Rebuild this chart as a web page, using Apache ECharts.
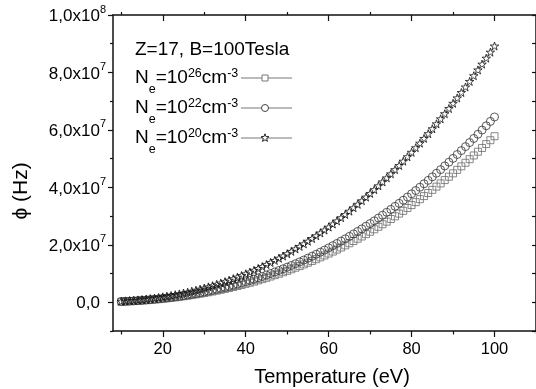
<!DOCTYPE html>
<html><head><meta charset="utf-8">
<script src="https://cdn.jsdelivr.net/npm/echarts@6/dist/echarts.min.js"></script>
<style>html,body{margin:0;padding:0;background:#fff}#c{width:536px;height:389px}</style>
</head><body><div id="c"></div>
<script>
// Temperature (eV)
const temps = [10,11,12,13,14,15,16,17,18,19,20,21,22,23,24,25,26,27,28,29,30,31,32,33,34,35,36,37,38,39,40,41,42,43,44,45,46,47,48,49,50,51,52,53,54,55,56,57,58,59,60,61,62,63,64,65,66,67,68,69,70,71,72,73,74,75,76,77,78,79,80,81,82,83,84,85,86,87,88,89,90,91,92,93,94,95,96,97,98,99,100];
// phi in units of 1e7 Hz
const ne26 = [0.0230,0.0289,0.0357,0.0432,0.0516,0.0609,0.0711,0.0822,0.0943,0.1074,0.1214,0.1366,0.1527,0.1699,0.1881,0.2075,0.2279,0.2496,0.2723,0.2962,0.3214,0.3477,0.3752,0.4040,0.4340,0.4653,0.4978,0.5316,0.5668,0.6033,0.6410,0.6802,0.7207,0.7625,0.8058,0.8505,0.8966,0.9440,0.9929,1.0435,1.0951,1.1485,1.2032,1.2593,1.3171,1.3767,1.4374,1.4998,1.5637,1.6293,1.6963,1.7648,1.8352,1.9071,1.9803,2.0554,2.1322,2.2104,2.2903,2.3721,2.4554,2.5406,2.6274,2.7158,2.8061,2.8977,2.9916,3.0864,3.1836,3.2828,3.3834,3.4858,3.5894,3.6961,3.8030,3.9134,4.0250,4.1377,4.2534,4.3703,4.4883,4.6093,4.7313,4.8560,4.9819,5.1106,5.2410,5.3720,5.5064,5.6418,5.78];
const ne22 = [0.0257,0.0323,0.0398,0.0482,0.0576,0.0680,0.0793,0.0918,0.1053,0.1199,0.1355,0.1524,0.1704,0.1896,0.2099,0.2315,0.2544,0.2785,0.3039,0.3306,0.3586,0.3880,0.4187,0.4508,0.4844,0.5193,0.5555,0.5933,0.6325,0.6732,0.7153,0.7590,0.8042,0.8509,0.8992,0.9491,1.0005,1.0535,1.1080,1.1644,1.2220,1.2816,1.3426,1.4053,1.4698,1.5363,1.6041,1.6736,1.7450,1.8182,1.8929,1.9694,2.0479,2.1281,2.2098,2.2936,2.3794,2.4666,2.5557,2.6471,2.7400,2.8351,2.9320,3.0307,3.1314,3.2336,3.3384,3.4442,3.5526,3.6633,3.7756,3.8899,4.0055,4.1246,4.2438,4.3670,4.4916,4.6173,4.7465,4.8768,5.0086,5.1436,5.2798,5.4188,5.5594,5.7030,5.8485,5.9947,6.1447,6.2958,6.45];
const ne20 = [0.0355,0.0447,0.0550,0.0667,0.0796,0.0940,0.1097,0.1269,0.1456,0.1658,0.1874,0.2108,0.2356,0.2621,0.2903,0.3202,0.3518,0.3852,0.4202,0.4571,0.4959,0.5365,0.5791,0.6235,0.6698,0.7181,0.7682,0.8205,0.8748,0.9310,0.9892,1.0497,1.1121,1.1767,1.2435,1.3125,1.3837,1.4569,1.5323,1.6103,1.6900,1.7724,1.8568,1.9434,2.0326,2.1246,2.2183,2.3146,2.4132,2.5145,2.6178,2.7235,2.8322,2.9431,3.0561,3.1720,3.2906,3.4112,3.5345,3.6608,3.7893,3.9208,4.0548,4.1912,4.3306,4.4719,4.6168,4.7631,4.9130,5.0662,5.2215,5.3795,5.5394,5.7041,5.8690,6.0394,6.2116,6.3855,6.5641,6.7444,6.9266,7.1133,7.3016,7.4940,7.6883,7.8869,8.0881,8.2903,8.4977,8.7067,8.92];
const xMajorTicks = [20,40,60,80,100];
const xMinorTicks = [10,30,50,70,90,110];
const yMajorTicks = [0,2,4,6,8,10];
const yMinorTicks = [-1,1,3,5,7,9];
const yRightTicks = [-1,0,1,2,3,4,5,6,7,8,9,10];

const FONT = '"Liberation Sans", Arial, Helvetica, sans-serif';
const AX = '#111';
const STAR = 'path://M50,0 L61.2,34.5 L97.6,34.5 L68.2,55.9 L79.4,90.5 L50,69.1 L20.6,90.5 L31.8,55.9 L2.4,34.5 L38.8,34.5 Z';

function pairs(ys){ return temps.map((t,i)=>[t, ys[i]]); }

const chart = echarts.init(document.getElementById('c'), null, {renderer:'canvas'});

function yFmt(v){
  if (v === 0) return '{a|0,0}{sp|}';
  if (v === 10) return '{a|1,0x10}{sup|8}';
  return '{a|' + v + ',0x10}{sup|7}';
}

const legRich = {
  n:{fontSize:19, fontFamily:FONT, color:'#000', lineHeight:22, verticalAlign:'middle'},
  sub:{fontSize:12.5, fontFamily:FONT, color:'#000', lineHeight:13, verticalAlign:'middle', padding:[24,0,0,0]},
  sup:{fontSize:12.5, fontFamily:FONT, color:'#000', lineHeight:13, verticalAlign:'middle', padding:[0,0,9,0]}
};

function starPoints(cx, cy, r){
  const pts=[];
  for(let k=0;k<10;k++){
    const rr = k%2===0 ? r : r*0.42;
    const a = -Math.PI/2 + k*Math.PI/5;
    pts.push([cx+rr*Math.cos(a), cy+rr*Math.sin(a)]);
  }
  return pts;
}

const legendRows = [
  {exp:'26', y:78, marker:{type:'rect', shape:{x:262,y:75,width:6,height:6}, style:{fill:'#fff', stroke:'#777', lineWidth:1}}},
  {exp:'22', y:108, marker:{type:'circle', shape:{cx:265,cy:108,r:3.5}, style:{fill:'#fff', stroke:'#444', lineWidth:1}}},
  {exp:'20', y:138, marker:{type:'polygon', shape:{points:starPoints(265,138,4.2)}, style:{fill:'#fff', stroke:'#222', lineWidth:1}}}
];

const graphic = [
  {type:'text', x:135, y:50, style:{text:'Z=17, B=100Tesla', font:'19px '+FONT, fill:'#000', verticalAlign:'middle'}},
  {type:'text', x:21, y:191, rotation:Math.PI/2, style:{text:'ϕ (Hz)', font:'21px '+FONT, fill:'#000', align:'center', verticalAlign:'middle'}},
  {type:'text', x:332, y:377, style:{text:'Temperature (eV)', font:'20px '+FONT, fill:'#000', align:'center', verticalAlign:'middle'}}
];
legendRows.forEach(r=>{
  graphic.push({type:'text', x:135, y:r.y, style:{
    text:'{n|N}{sub|e}{n|=10}{sup|'+r.exp+'}{n|cm}{sup|-3}', rich:legRich, verticalAlign:'middle', align:'left'}});
  graphic.push({type:'line', shape:{x1:241,y1:r.y,x2:292,y2:r.y}, style:{stroke:'#777', lineWidth:1}});
  graphic.push(r.marker);
});

const option = {
  animation:false,
  backgroundColor:'#fff',
  grid:{left:113, right:-2, top:15, bottom:58, containLabel:false},
  xAxis:[
    {type:'value', position:'bottom', min:8, max:110,
     axisLine:{show:true, onZero:false, lineStyle:{color:AX, width:1.5}},
     axisTick:{show:true, customValues:xMajorTicks, length:6, lineStyle:{color:AX, width:1.2}},
     axisLabel:{customValues:xMajorTicks, color:'#000', fontSize:16.5, fontFamily:FONT, margin:10},
     splitLine:{show:false}},
    {type:'value', position:'bottom', min:8, max:110,
     axisLine:{show:false, onZero:false},
     axisTick:{show:true, customValues:xMinorTicks, length:3.5, lineStyle:{color:AX, width:1.2}},
     axisLabel:{show:false}, splitLine:{show:false}},
    {type:'value', position:'top', min:8, max:110,
     axisLine:{show:true, onZero:false, lineStyle:{color:AX, width:1.5}},
     axisTick:{show:true, inside:true, customValues:xMajorTicks, length:6, lineStyle:{color:AX, width:1.2}},
     axisLabel:{show:false}, splitLine:{show:false}},
    {type:'value', position:'top', min:8, max:110,
     axisLine:{show:false, onZero:false},
     axisTick:{show:true, inside:false, customValues:[10,30,50,70,90], length:3, lineStyle:{color:AX, width:1.2}},
     axisLabel:{show:false}, splitLine:{show:false}}
  ],
  yAxis:[
    {type:'value', position:'left', min:-1, max:10,
     axisLine:{show:true, onZero:false, lineStyle:{color:AX, width:1.5}},
     axisTick:{show:true, customValues:yMajorTicks, length:5, lineStyle:{color:AX, width:1.2}},
     axisLabel:{customValues:yMajorTicks, formatter:yFmt, margin:7,
       rich:{a:{fontSize:17, fontFamily:FONT, color:'#000', lineHeight:20, verticalAlign:'middle', padding:[3,0,0,0]},
             sup:{fontSize:11, fontFamily:FONT, color:'#000', lineHeight:11, verticalAlign:'middle', padding:[0,0,11,0]},
             sp:{width:6}}},
     splitLine:{show:false}},
    {type:'value', position:'left', min:-1, max:10,
     axisLine:{show:false, onZero:false},
     axisTick:{show:true, customValues:yMinorTicks, length:3, lineStyle:{color:AX, width:1.2}},
     axisLabel:{show:false}, splitLine:{show:false}},
    {type:'value', position:'right', min:-1, max:10,
     axisLine:{show:true, onZero:false, lineStyle:{color:AX, width:1.5}},
     axisTick:{show:true, inside:true, customValues:yRightTicks, length:4, lineStyle:{color:AX, width:1.2}},
     axisLabel:{show:false}, splitLine:{show:false}}
  ],
  series:[
    {name:'1e26', type:'scatter', xAxisIndex:0, yAxisIndex:0, symbol:'rect', symbolSize:7,
     itemStyle:{color:'rgba(0,0,0,0)', borderColor:'#6a6a6a', borderWidth:1}, data:pairs(ne26), z:2},
    {name:'1e22', type:'scatter', xAxisIndex:0, yAxisIndex:0, symbol:'circle', symbolSize:8,
     itemStyle:{color:'rgba(0,0,0,0)', borderColor:'#333', borderWidth:1}, data:pairs(ne22), z:3},
    {name:'1e20', type:'scatter', xAxisIndex:0, yAxisIndex:0, symbol:STAR, symbolSize:8.5, symbolKeepAspect:true,
     itemStyle:{color:'rgba(0,0,0,0)', borderColor:'#111', borderWidth:1}, data:pairs(ne20), z:4}
  ],
  graphic:graphic
};
chart.setOption(option);
</script></body></html>
